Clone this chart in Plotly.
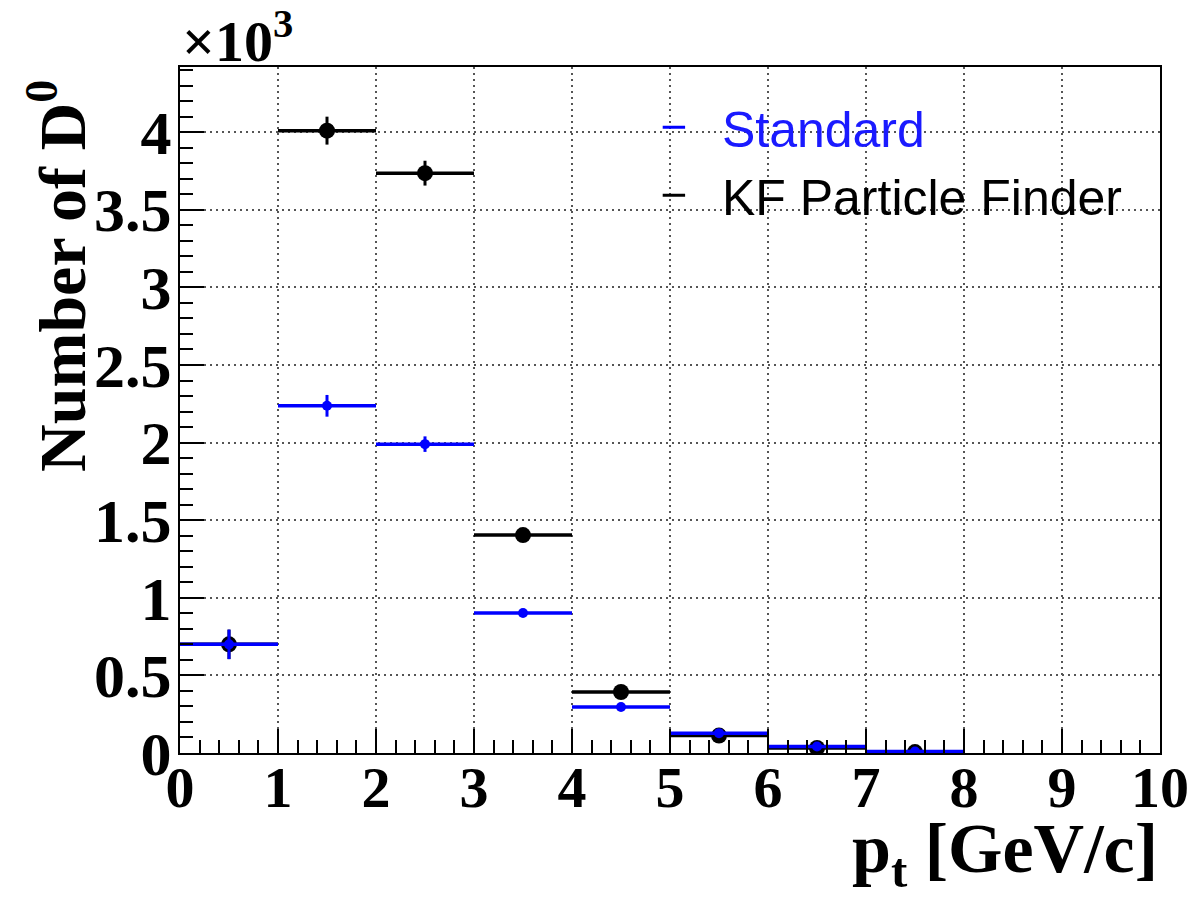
import plotly.graph_objects as go

# D0 yield per pt bin, two reconstruction methods
bin_edges = [0, 1, 2, 3, 4, 5, 6, 7, 8]
kf_counts = [700, 4010, 3736, 1404, 393, 112, 32, 6]
kf_errors = [95, 90, 80, 35, 18, 10, 5, 3]
std_counts = [700, 2237, 1990, 902, 296, 128, 42, 9]
std_errors = [95, 70, 50, 22, 14, 9, 5, 3]

y_tick_values = [0, 500, 1000, 1500, 2000, 2500, 3000, 3500, 4000]
y_tick_labels = ["0", "0.5", "1", "1.5", "2", "2.5", "3", "3.5", "4"]
x_tick_values = [0, 1, 2, 3, 4, 5, 6, 7, 8, 9, 10]

centers = [(a + b) / 2 for a, b in zip(bin_edges[:-1], bin_edges[1:])]
half_widths = [(b - a) / 2 for a, b in zip(bin_edges[:-1], bin_edges[1:])]

BLUE = "#0000ff"
SERIF = "Liberation Serif"
SANS = "Liberation Sans"

fig = go.Figure()

fig.add_trace(go.Scatter(
    x=centers, y=kf_counts, mode="markers", showlegend=False,
    marker=dict(color="black", size=16),
    error_x=dict(type="data", array=half_widths, width=0, thickness=3.5, color="black"),
    error_y=dict(type="data", array=kf_errors, width=0, thickness=3, color="black"),
))
fig.add_trace(go.Scatter(
    x=centers, y=std_counts, mode="markers", showlegend=False,
    marker=dict(color=BLUE, size=10),
    error_x=dict(type="data", array=half_widths, width=0, thickness=3.5, color=BLUE),
    error_y=dict(type="data", array=std_errors, width=0, thickness=3, color=BLUE),
))

# legend entries drawn as short dashes
fig.add_trace(go.Scatter(
    x=[None], y=[None], mode="markers",
    name="<span style='color:#1a1aff'>Standard</span>",
    marker=dict(symbol="line-ew", size=24, color=BLUE, line=dict(width=3, color=BLUE)),
))
fig.add_trace(go.Scatter(
    x=[None], y=[None], mode="markers",
    name="KF Particle Finder",
    marker=dict(symbol="line-ew", size=24, color="black", line=dict(width=3, color="black")),
))

axis_common = dict(
    showline=True, mirror=True, linecolor="black", linewidth=2,
    ticks="inside", tickwidth=2, tickcolor="black",
    showgrid=True, gridcolor="#555555", gridwidth=1.5, griddash="2px,4px",
    zeroline=False,
)

fig.update_xaxes(
    range=[0, 10], tickmode="array", tickvals=x_tick_values, ticklen=24,
    minor=dict(dtick=0.2, tick0=0, ticks="inside", ticklen=13, tickwidth=2,
               tickcolor="black", showgrid=False),
    ticklabelstandoff=-18,
    tickfont=dict(family=SERIF, size=58, color="black", weight="bold"),
    **axis_common,
)
fig.update_yaxes(
    range=[0, 4420], tickmode="array", tickvals=y_tick_values, ticktext=y_tick_labels,
    ticklen=24,
    minor=dict(dtick=100, tick0=0, ticks="inside", ticklen=13, tickwidth=2,
               tickcolor="black", showgrid=False),
    ticklabelstandoff=-6,
    tickfont=dict(family=SERIF, size=62, color="black", weight="bold"),
    **axis_common,
)

annotations = [
    dict(text="×10<sup>3</sup>", x=0, y=0.987, xref="paper", yref="paper",
         xanchor="left", yanchor="bottom", showarrow=False,
         font=dict(family=SERIF, size=58, color="black", weight="bold")),
    dict(text="Number of D<sup>0</sup>", x=-0.1245, y=0.984, xref="paper", yref="paper",
         xanchor="center", yanchor="top", textangle=-90, showarrow=False,
         font=dict(family=SERIF, size=66, color="black", weight="bold")),
    dict(text="p<sub>t</sub> [GeV/c]", x=1.0, y=-0.08, xref="paper", yref="paper",
         xanchor="right", yanchor="top", showarrow=False,
         font=dict(family=SERIF, size=70, color="black", weight="bold")),
]

fig.update_layout(
    width=1202, height=901,
    margin=dict(l=180, r=42, t=67, b=148),
    paper_bgcolor="white", plot_bgcolor="white",
    annotations=annotations,
    legend=dict(
        x=0.455, y=0.969, xanchor="left", yanchor="top",
        bgcolor="rgba(0,0,0,0)", borderwidth=0,
        font=dict(family=SANS, size=50, color="black"),
        itemwidth=86, tracegroupgap=0,
    ),
)

fig.write_html("out.html")
